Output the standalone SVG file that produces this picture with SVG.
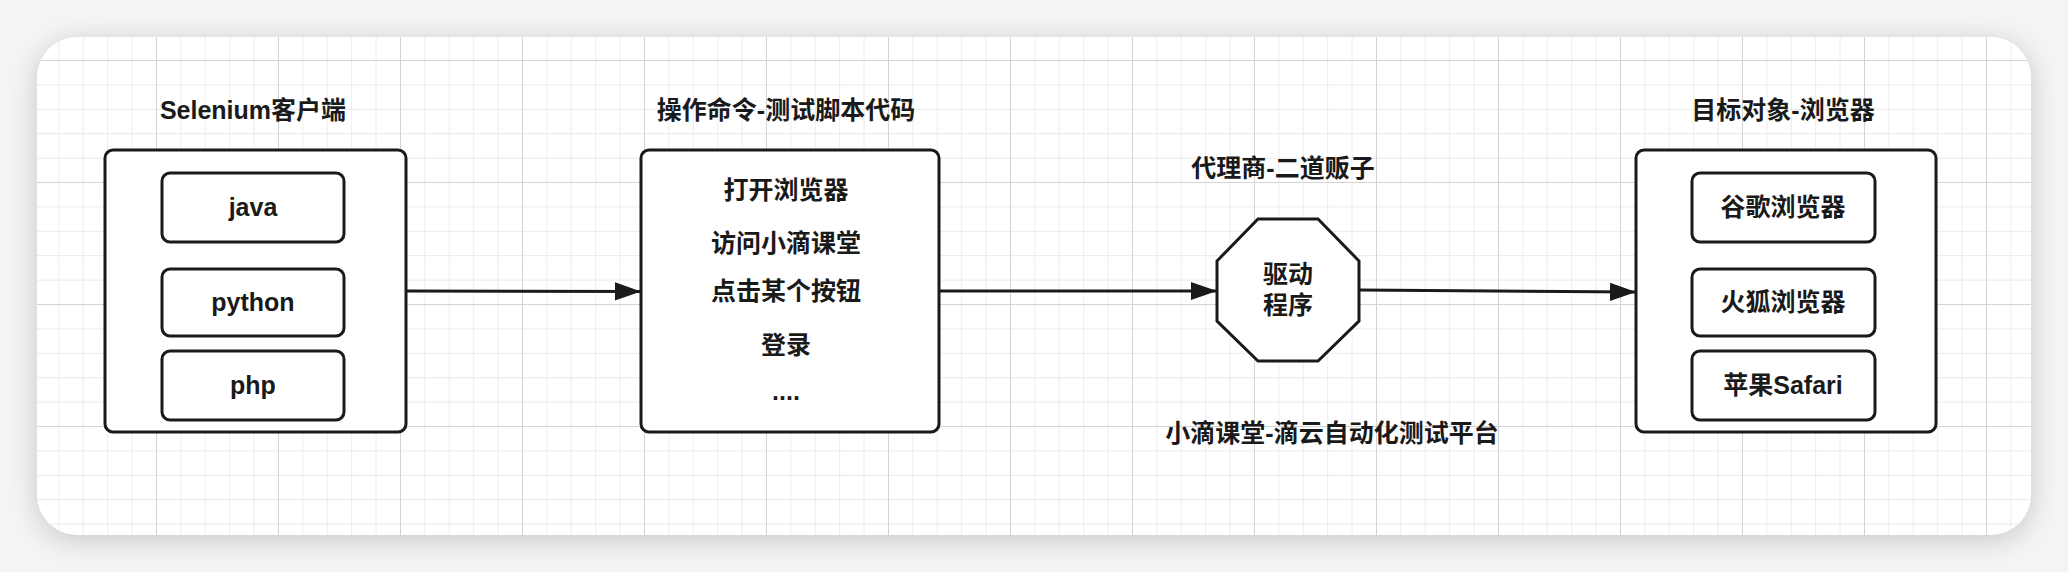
<svg xmlns="http://www.w3.org/2000/svg" width="2068" height="572" viewBox="0 0 2068 572">
<defs>
<pattern id="minor" patternUnits="userSpaceOnUse" x="34" y="60" width="24.4" height="24.4"><path d="M0 0H24.4M0 0V24.4" fill="none" stroke="#e2e2e2" stroke-width="1.3"/></pattern>
<pattern id="major" patternUnits="userSpaceOnUse" x="34" y="60" width="122" height="122"><path d="M0 0H122M0 0V122" fill="none" stroke="#d4d4d4" stroke-width="2"/></pattern>
<filter id="sh" x="-5%" y="-20%" width="110%" height="140%"><feGaussianBlur stdDeviation="14"/></filter>
<clipPath id="card"><rect x="37" y="37" width="1994" height="498" rx="40"/></clipPath>
<marker id="ah" viewBox="0 0 10 10" refX="10" refY="5" markerWidth="26" markerHeight="26" markerUnits="userSpaceOnUse" orient="auto"><path d="M0 1.5L10 5L0 8.5Z" fill="#1a1a1a"/></marker>
</defs>
<style>
text{font-family:"Liberation Sans","Noto Sans CJK SC",sans-serif;font-size:25px;fill:#1a1a1a;text-anchor:middle}
.b{font-weight:bold}
.box{fill:#fff;stroke:#1a1a1a;stroke-width:3}
.edge{fill:none;stroke:#1a1a1a;stroke-width:3;marker-end:url(#ah)}
</style>
<rect width="2068" height="572" fill="#f4f4f4"/>
<rect x="37" y="42" width="1994" height="498" rx="40" fill="#000" opacity="0.18" filter="url(#sh)"/>
<rect x="37" y="37" width="1994" height="498" rx="40" fill="#fff"/>
<g clip-path="url(#card)"><rect x="37" y="37" width="1994" height="498" fill="url(#minor)"/><rect x="37" y="37" width="1994" height="498" fill="url(#major)"/></g>
<g id="client">
<text class="b" x="253" y="119">Selenium客户端</text>
<rect class="box" x="105" y="150" width="301" height="282" rx="8"/>
<g id="java"><rect class="box" x="162" y="173" width="182" height="69" rx="8"/><text class="b" x="253" y="216">java</text></g>
<g id="python"><rect class="box" x="162" y="269" width="182" height="67" rx="8"/><text class="b" x="253" y="311">python</text></g>
<g id="php"><rect class="box" x="162" y="351" width="182" height="69" rx="8"/><text class="b" x="253" y="394">php</text></g>
</g>
<g id="commands">
<text class="b" x="786" y="119">操作命令-测试脚本代码</text>
<rect class="box" x="641" y="150" width="298" height="282" rx="8"/>
<text class="b" x="786" y="199">打开浏览器</text>
<text class="b" x="786" y="252">访问小滴课堂</text>
<text class="b" x="786" y="300">点击某个按钮</text>
<text class="b" x="786" y="354">登录</text>
<text class="b" x="786" y="400">....</text>
</g>
<g id="driver">
<text class="b" x="1283" y="177">代理商-二道贩子</text>
<polygon class="box" points="1258,219 1318,219 1359,261 1359,321 1318,361 1258,361 1217,321 1217,261"/>
<text class="b" x="1288" y="283">驱动</text>
<text class="b" x="1288" y="314">程序</text>
<text class="b" x="1332" y="442">小滴课堂-滴云自动化测试平台</text>
</g>
<g id="browsers">
<text class="b" x="1783" y="119">目标对象-浏览器</text>
<rect class="box" x="1636" y="150" width="300" height="282" rx="8"/>
<g id="chrome"><rect class="box" x="1692" y="173" width="183" height="69" rx="8"/><text class="b" x="1783" y="216">谷歌浏览器</text></g>
<g id="firefox"><rect class="box" x="1692" y="269" width="183" height="67" rx="8"/><text class="b" x="1783" y="311">火狐浏览器</text></g>
<g id="safari"><rect class="box" x="1692" y="351" width="183" height="69" rx="8"/><text class="b" x="1783" y="394">苹果Safari</text></g>
</g>
<g id="connectors">
<path class="edge" d="M406 291L641 291.5"/>
<path class="edge" d="M939 291L1217 291"/>
<path class="edge" d="M1359 290L1636 292"/>
</g>
</svg>
